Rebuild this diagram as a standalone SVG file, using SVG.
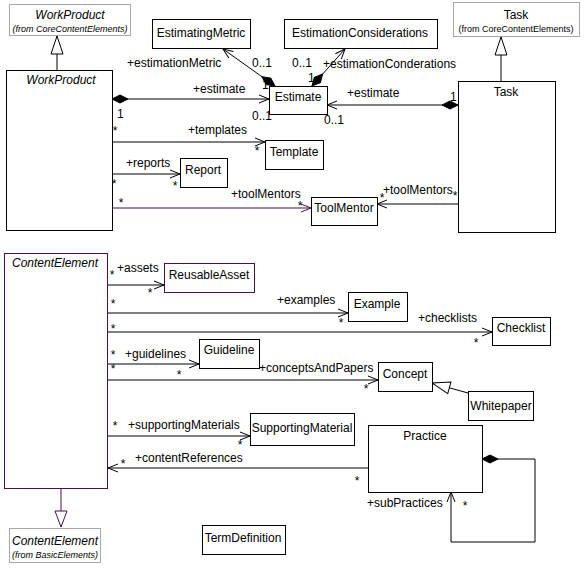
<svg xmlns="http://www.w3.org/2000/svg" width="586" height="571" viewBox="0 0 586 571">
<style>
text{font-family:"Liberation Sans",Arial,sans-serif;font-size:12px;fill:#000}
.c{text-anchor:middle}
.i{font-style:italic}
.s{font-size:9px}
.box{fill:#fff;stroke:#000;stroke-width:1}
.gbox{fill:#fff;stroke:#a8a8a8;stroke-width:1}
.pbox{fill:#fff;stroke:#4b0f4b;stroke-width:1}
.ln{fill:none;stroke:#000;stroke-width:1}
.pl{fill:none;stroke:#4b0f4b;stroke-width:1}
</style>
<defs>
<marker id="open" markerUnits="userSpaceOnUse" markerWidth="12" markerHeight="10" refX="10" refY="4" orient="auto" overflow="visible">
<path d="M0,0 L10,4 L0,8" fill="none" stroke="#000" stroke-width="1"/>
</marker>
<marker id="openp" markerUnits="userSpaceOnUse" markerWidth="12" markerHeight="10" refX="10" refY="4" orient="auto" overflow="visible">
<path d="M0,0 L10,4 L0,8" fill="none" stroke="#4b0f4b" stroke-width="1"/>
</marker>
<marker id="dia" markerUnits="userSpaceOnUse" markerWidth="18" markerHeight="10" refX="0" refY="4" orient="auto" overflow="visible">
<path d="M0,4 L8,0 L16,4 L8,8 Z" fill="#000" stroke="#000" stroke-width="1"/>
</marker>
<marker id="gen" markerUnits="userSpaceOnUse" markerWidth="20" markerHeight="14" refX="18" refY="6" orient="auto" overflow="visible">
<path d="M0,0 L18,6 L0,12 Z" fill="#fff" stroke="#000" stroke-width="1"/>
</marker>
<marker id="genp" markerUnits="userSpaceOnUse" markerWidth="20" markerHeight="14" refX="16" refY="6" orient="auto" overflow="visible">
<path d="M0,0 L16,6 L0,12 Z" fill="#fff" stroke="#4b0f4b" stroke-width="1"/>
</marker>
</defs>

<g id="connectors">
<path class="ln" d="M57,70 L57,36" marker-end="url(#gen)"/>
<path class="ln" d="M501,81 L501,37" marker-end="url(#gen)"/>
<path class="ln" d="M112,99 L269,99" marker-start="url(#dia)" marker-end="url(#open)"/>
<path class="ln" d="M458,105 L327,105" marker-start="url(#dia)" marker-end="url(#open)"/>
<path class="ln" d="M275,86 L223,49" marker-start="url(#dia)" marker-end="url(#open)"/>
<path class="ln" d="M312,86 L345,49" marker-start="url(#dia)" marker-end="url(#open)"/>
<path class="ln" d="M112,142 L265,142" marker-end="url(#open)"/>
<path class="ln" d="M112,174 L180,174" marker-end="url(#open)"/>
<path class="pl" d="M112,208 L311,208" marker-end="url(#openp)"/>
<path class="ln" d="M458,204 L377,204" marker-end="url(#open)"/>
<path class="ln" d="M107,285 L164,285" marker-end="url(#open)"/>
<path class="ln" d="M107,313 L348,313" marker-end="url(#open)"/>
<path class="ln" d="M107,332 L492,332" marker-end="url(#open)"/>
<path class="ln" d="M107,364 L199,364" marker-end="url(#open)"/>
<path class="ln" d="M107,380 L378,380" marker-end="url(#open)"/>
<path class="ln" d="M107,436 L250,436" marker-end="url(#open)"/>
<path class="ln" d="M368,468 L108,468" marker-end="url(#open)"/>
<path class="ln" d="M482,459 L535,459 L535,542 L451,542 L451,492" marker-start="url(#dia)" marker-end="url(#open)"/>
<path class="ln" d="M468,393 L432,383" marker-end="url(#gen)"/>
<path class="pl" d="M61,488 L61,527" marker-end="url(#genp)"/>
</g>

<g id="labels">
<text x="127" y="67">+estimationMetric</text>
<text x="252" y="67">0..1</text>
<text x="262" y="89">1</text>
<text x="292" y="67">0..1</text>
<text x="323" y="68">+estimationConderations</text>
<text x="308" y="82">1</text>
<text x="193" y="93">+estimate</text>
<text x="117" y="118">1</text>
<text x="252" y="120">0..1</text>
<text x="347" y="97">+estimate</text>
<text x="450" y="101">1</text>
<text x="324" y="124">0..1</text>
<text class="c" x="115" y="135">*</text>
<text x="188" y="134">+templates</text>
<text class="c" x="257" y="155">*</text>
<text x="126" y="167">+reports</text>
<text class="c" x="114" y="188">*</text>
<text class="c" x="175" y="190">*</text>
<text class="c" x="121" y="207">*</text>
<text x="231" y="198">+toolMentors</text>
<text class="c" x="300" y="210">*</text>
<text class="c" x="382" y="202">*</text>
<text x="383" y="194">+toolMentors</text>
<text class="c" x="455" y="200">*</text>
<text class="c" x="112" y="279">*</text>
<text x="117" y="272">+assets</text>
<text class="c" x="150" y="297">*</text>
<text class="c" x="113" y="308">*</text>
<text x="277" y="304">+examples</text>
<text class="c" x="341" y="327">*</text>
<text class="c" x="113" y="333">*</text>
<text x="418" y="322">+checklists</text>
<text class="c" x="476" y="347">*</text>
<text class="c" x="113" y="359">*</text>
<text x="125" y="358">+guidelines</text>
<text class="c" x="179" y="379">*</text>
<text class="c" x="113" y="373">*</text>
<text x="259" y="372">+conceptsAndPapers</text>
<text class="c" x="366" y="393">*</text>
<text class="c" x="115" y="430">*</text>
<text x="128" y="429">+supportingMaterials</text>
<text class="c" x="240" y="449">*</text>
<text class="c" x="123" y="468">*</text>
<text x="135" y="462">+contentReferences</text>
<text class="c" x="357" y="485">*</text>
<text x="367" y="507">+subPractices</text>
<text class="c" x="465" y="510">*</text>
</g>

<g id="WorkProductBase">
<rect class="gbox" x="9.5" y="4.5" width="121" height="31"/>
<text class="c i" x="70" y="19">WorkProduct</text>
<text class="c i s" x="70" y="32">(from CoreContentElements)</text>
</g>
<g id="TaskBase">
<rect class="gbox" x="453.5" y="2.5" width="126" height="34"/>
<text class="c" x="516" y="19">Task</text>
<text class="c s" x="516" y="32">(from CoreContentElements)</text>
</g>
<g id="WorkProduct">
<rect class="box" x="6.5" y="70.5" width="106" height="160"/>
<text class="c i" x="61" y="84">WorkProduct</text>
</g>
<g id="Task">
<rect class="box" x="458.5" y="81.5" width="97" height="151"/>
<text class="c" x="506" y="96">Task</text>
</g>
<g id="EstimatingMetric">
<rect class="box" x="152.5" y="19.5" width="98" height="29"/>
<text class="c" x="201" y="37">EstimatingMetric</text>
</g>
<g id="EstimationConsiderations">
<rect class="box" x="284.5" y="19.5" width="153" height="29"/>
<text class="c" x="360" y="37">EstimationConsiderations</text>
</g>
<g id="Estimate">
<rect class="box" x="269.5" y="86.5" width="58" height="28"/>
<text class="c" x="298" y="101">Estimate</text>
</g>
<g id="Template">
<rect class="box" x="265.5" y="140.5" width="58" height="29"/>
<text class="c" x="294" y="156">Template</text>
</g>
<g id="Report">
<rect class="box" x="180.5" y="158.5" width="47" height="29"/>
<text class="c" x="203" y="174">Report</text>
</g>
<g id="ToolMentor">
<rect class="box" x="311.5" y="197.5" width="66" height="28"/>
<text class="c" x="344" y="212">ToolMentor</text>
</g>
<g id="ContentElement">
<rect class="pbox" x="4.5" y="253.5" width="103" height="235"/>
<text class="i" x="12" y="267">ContentElement</text>
</g>
<g id="ReusableAsset">
<rect class="pbox" x="164.5" y="263.5" width="90" height="29"/>
<text class="c" x="209" y="279">ReusableAsset</text>
</g>
<g id="Example">
<rect class="box" x="348.5" y="292.5" width="59" height="29"/>
<text class="c" x="377" y="308">Example</text>
</g>
<g id="Checklist">
<rect class="box" x="492.5" y="317.5" width="58" height="28"/>
<text class="c" x="521" y="332">Checklist</text>
</g>
<g id="Guideline">
<rect class="box" x="199.5" y="339.5" width="60" height="29"/>
<text class="c" x="229" y="354">Guideline</text>
</g>
<g id="Concept">
<rect class="box" x="378.5" y="362.5" width="54" height="29"/>
<text class="c" x="405" y="378">Concept</text>
</g>
<g id="Whitepaper">
<rect class="box" x="468.5" y="391.5" width="65" height="29"/>
<text class="c" x="501" y="410">Whitepaper</text>
</g>
<g id="SupportingMaterial">
<rect class="box" x="250.5" y="413.5" width="104" height="32"/>
<text class="c" x="302" y="432">SupportingMaterial</text>
</g>
<g id="Practice">
<rect class="box" x="368.5" y="425.5" width="114" height="67"/>
<text class="c" x="425" y="440">Practice</text>
</g>
<g id="TermDefinition">
<rect class="box" x="202.5" y="525.5" width="83" height="29"/>
<text class="c" x="243" y="542">TermDefinition</text>
</g>
<g id="ContentElementBase">
<rect class="gbox" x="9.5" y="528.5" width="91" height="34"/>
<text class="c i" x="55" y="545">ContentElement</text>
<text class="c i s" x="55" y="558">(from BasicElements)</text>
</g>
</svg>
